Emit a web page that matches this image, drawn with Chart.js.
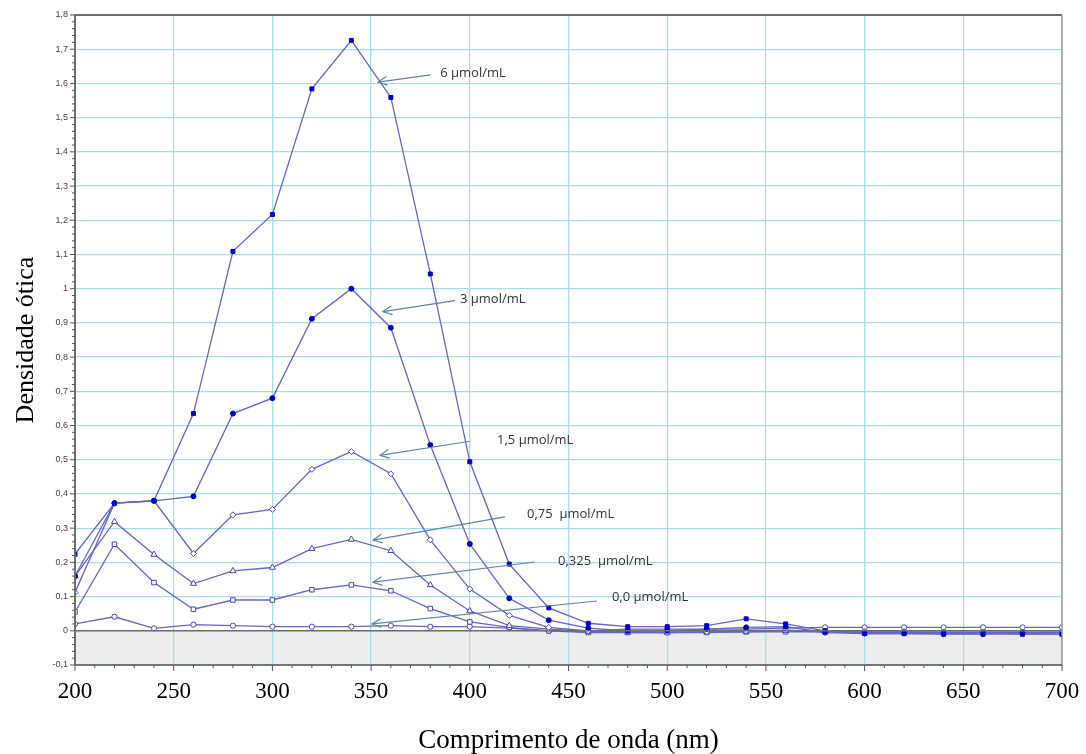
<!DOCTYPE html>
<html>
<head>
<meta charset="utf-8">
<script src="https://cdn.jsdelivr.net/npm/chart.js@4/dist/chart.umd.min.js"></script>
<style>
  html, body { margin: 0; padding: 0; background: #fff; }
  #wrap { width: 1086px; height: 754px; }
</style>
</head>
<body>
<div id="wrap"><canvas id="myChart" width="1086" height="754"></canvas></div>
<script>
// wavelengths (nm)
var wavelengths = [200, 220, 240, 260, 280, 300, 320, 340, 360, 380, 400, 420, 440,
                   460, 480, 500, 520, 540, 560, 580, 600, 620, 640, 660, 680, 700];

var seriesNames = ["6 µmol/mL", "3 µmol/mL", "1,5 µmol/mL", "0,75  µmol/mL", "0,325  µmol/mL", "0,0 µmol/mL"];

var od6 = [0.224, 0.373, 0.38, 0.635, 1.109, 1.217, 1.584, 1.726, 1.559, 1.043, 0.494, 0.195, 0.067,
           0.022, 0.012, 0.012, 0.015, 0.035, 0.02, 0.0, -0.008, -0.008, -0.008, -0.008, -0.01, -0.01];
var od3 = [0.16, 0.373, 0.38, 0.393, 0.635, 0.68, 0.912, 1.0, 0.886, 0.543, 0.254, 0.095, 0.031,
           0.008, 0.0, 0.0, 0.005, 0.01, 0.012, -0.005, -0.008, -0.008, -0.01, -0.01, -0.008, -0.01];
var od15 = [0.112, 0.373, 0.38, 0.226, 0.339, 0.355, 0.472, 0.524, 0.459, 0.266, 0.122, 0.045, 0.01,
            0.0, -0.003, -0.005, -0.003, 0.0, 0.002, -0.002, -0.003, -0.003, -0.005, -0.005, -0.005, -0.005];
var od075 = [0.16, 0.319, 0.223, 0.138, 0.175, 0.185, 0.24, 0.267, 0.234, 0.134, 0.058, 0.015, 0.005,
             -0.002, -0.005, -0.005, -0.003, -0.003, 0.0, -0.003, -0.004, -0.004, -0.005, -0.005, -0.005, -0.005];
var od0325 = [0.055, 0.253, 0.141, 0.063, 0.09, 0.09, 0.12, 0.134, 0.117, 0.065, 0.026, 0.01, 0.0,
              -0.005, -0.005, -0.005, -0.005, -0.003, -0.003, -0.003, -0.005, -0.005, -0.005, -0.005, -0.005, -0.005];
var od0 = [0.02, 0.041, 0.007, 0.018, 0.015, 0.012, 0.012, 0.012, 0.015, 0.012, 0.012, 0.008, 0.0,
           0.0, 0.005, 0.005, 0.005, 0.005, 0.008, 0.01, 0.01, 0.01, 0.01, 0.01, 0.01, 0.01];

// callouts: label anchor, arrow tail, arrow tip (data units)
var labelX = [385, 395, 413.8, 429, 444.7, 472];
var labelY = [1.63, 0.968, 0.557, 0.341, 0.203, 0.098];
var tailX = [380, 392.5, 400, 417.8, 433, 464.4];
var tailY = [1.625, 0.965, 0.554, 0.333, 0.201, 0.087];
var tipX = [353.5, 356, 354.5, 351, 351, 350.5];
var tipY = [1.604, 0.933, 0.513, 0.265, 0.142, 0.02];

var lineColor = "#6464cc";
var markerDark = "#0000c8";

function pts(arr) {
  return wavelengths.map(function(w, i) { return {x: w, y: arr[i]}; });
}

function ds(name, arr, style, filled, r) {
  return {
    label: name,
    data: pts(arr),
    borderColor: lineColor,
    borderWidth: 1.3,
    pointStyle: style,
    pointRadius: r,
    pointBorderWidth: 1,
    pointBorderColor: filled ? markerDark : "#4646c0",
    pointBackgroundColor: filled ? markerDark : "#ffffff",
    tension: 0
  };
}

var data = {
  datasets: [
    ds(seriesNames[0], od6, "rect", true, 2.8),
    ds(seriesNames[1], od3, "circle", true, 2.5),
    ds(seriesNames[2], od15, "rectRot", false, 3),
    ds(seriesNames[3], od075, "triangle", false, 3.5),
    ds(seriesNames[4], od0325, "rect", false, 3.2),
    ds(seriesNames[5], od0, "circle", false, 2.6)
  ]
};

var framePlugin = {
  id: "frame",
  beforeDraw: function(chart) {
    var c = chart.ctx, a = chart.chartArea, y = chart.scales.y;
    var z = y.getPixelForValue(0);
    c.save();
    c.fillStyle = "#ececec";
    c.fillRect(a.left, z, a.right - a.left, a.bottom - z);
    c.restore();
  },
  afterDraw: function(chart) {
    var c = chart.ctx, a = chart.chartArea, xs = chart.scales.x, ys = chart.scales.y;
    c.save();
    // zero line
    c.strokeStyle = "#6e6e6e";
    c.lineWidth = 1.6;
    var z = ys.getPixelForValue(0);
    c.beginPath(); c.moveTo(a.left, z); c.lineTo(a.right, z); c.stroke();
    // frame
    c.strokeStyle = "#707070";
    c.lineWidth = 2;
    c.beginPath();
    c.moveTo(a.left, a.bottom); c.lineTo(a.left, a.top); c.lineTo(a.right, a.top);
    c.stroke();
    c.strokeStyle = "#9a9a9a";
    c.lineWidth = 1.5;
    c.beginPath(); c.moveTo(a.right, a.top); c.lineTo(a.right, a.bottom); c.stroke();
    c.strokeStyle = "#555";
    c.lineWidth = 1.4;
    c.beginPath(); c.moveTo(a.left, a.bottom); c.lineTo(a.right, a.bottom); c.stroke();
    // ticks
    c.lineWidth = 1;
    c.strokeStyle = "#555";
    var v, p, k;
    for (k = -10; k <= 180; k += 2) {
      v = k / 100;
      p = ys.getPixelForValue(v);
      c.beginPath();
      c.moveTo(a.left - (k % 10 === 0 ? 5 : 3), p);
      c.lineTo(a.left, p);
      c.stroke();
    }
    for (k = 200; k <= 700; k += 10) {
      p = xs.getPixelForValue(k);
      c.beginPath();
      c.moveTo(p, a.bottom);
      c.lineTo(p, a.bottom + (k % 50 === 0 ? 6 : 3));
      c.stroke();
    }
    // callouts
    c.font = "13px 'Open Sans', 'Liberation Sans', sans-serif";
    c.fillStyle = "#333";
    c.textBaseline = "middle";
    for (var i = 0; i < seriesNames.length; i++) {
      var tx = xs.getPixelForValue(tailX[i]), ty = ys.getPixelForValue(tailY[i]);
      var hx = xs.getPixelForValue(tipX[i]), hy = ys.getPixelForValue(tipY[i]);
      c.strokeStyle = "#5f84a6";
      c.lineWidth = 1.2;
      c.beginPath(); c.moveTo(tx, ty); c.lineTo(hx, hy); c.stroke();
      var ang = Math.atan2(ty - hy, tx - hx);
      c.beginPath();
      c.moveTo(hx + 10 * Math.cos(ang + 0.45), hy + 10 * Math.sin(ang + 0.45));
      c.lineTo(hx, hy);
      c.lineTo(hx + 10 * Math.cos(ang - 0.45), hy + 10 * Math.sin(ang - 0.45));
      c.stroke();
      c.fillText(seriesNames[i], xs.getPixelForValue(labelX[i]), ys.getPixelForValue(labelY[i]));
    }
    c.restore();
  }
};

var ctx = document.getElementById("myChart");
var myNewChart = new Chart(ctx, {
  type: "line",
  data: data,
  plugins: [framePlugin],
  options: {
    responsive: false,
    animation: false,
    events: [],
    layout: { padding: { top: 15, right: 24, left: 0, bottom: 0 } },
    plugins: { legend: { display: false }, tooltip: { enabled: false } },
    scales: {
      x: {
        type: "linear",
        min: 200, max: 700,
        afterFit: function(s) {
          s.height = 89;
          s.paddingLeft = 0;
          s.paddingRight = 0;
        },
        ticks: {
          stepSize: 50,
          padding: 13,
          color: "#000",
          font: { family: "'Liberation Serif', serif", size: 23 }
        },
        grid: { color: "#a9dcec", lineWidth: 1.3, drawTicks: false },
        border: { display: false },
        title: {
          display: true,
          text: "Comprimento de onda (nm)",
          color: "#000",
          font: { family: "'Liberation Serif', serif", size: 27, lineHeight: 1 },
          padding: { top: 0, bottom: 0 }
        }
      },
      y: {
        min: -0.1, max: 1.8,
        afterFit: function(s) { s.width = 75; },
        ticks: {
          stepSize: 0.1,
          padding: 7,
          color: "#444",
          font: { family: "'Liberation Sans', sans-serif", size: 9 },
          callback: function(v) {
            return String(Math.round(v * 10) / 10).replace(".", ",");
          }
        },
        grid: { color: "#a9dcec", lineWidth: 1.3, drawTicks: false },
        border: { display: false },
        title: {
          display: true,
          text: "Densidade ótica",
          color: "#000",
          font: { family: "'Liberation Serif', serif", size: 26 },
          padding: { top: 11, bottom: 0 }
        }
      }
    }
  }
});
</script>
</body>
</html>
